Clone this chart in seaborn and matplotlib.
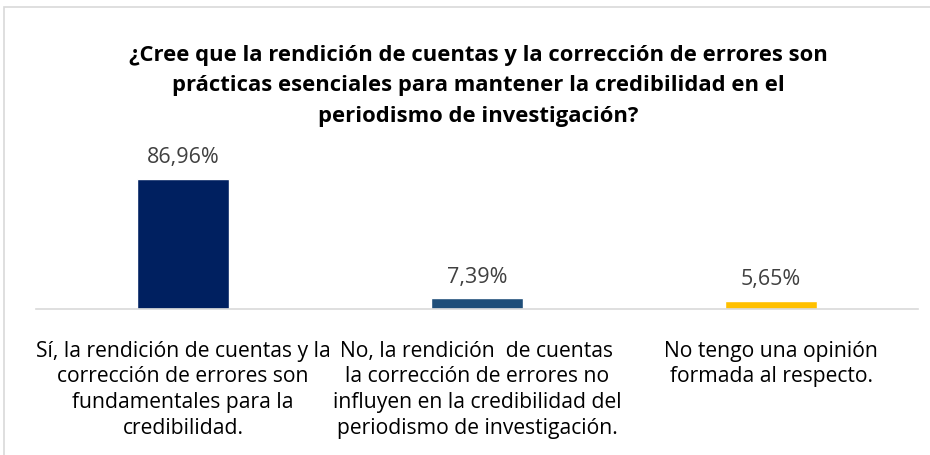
import matplotlib
matplotlib.use("Agg")
import matplotlib.pyplot as plt
import seaborn as sns
import pandas as pd
from matplotlib.patches import Rectangle

categories = [
    "Sí, la rendición de cuentas y la\ncorrección de errores son\nfundamentales para la\ncredibilidad.",
    "No, la rendición  de cuentas\nla corrección de errores no\ninfluyen en la credibilidad del\nperiodismo de investigación.",
    "No tengo una opinión\nformada al respecto.",
]
values = [86.96, 7.39, 5.65]
value_labels = ["86,96%", "7,39%", "5,65%"]
colors = ["#002060", "#1F4E79", "#FFC000"]
title = ("¿Cree que la rendición de cuentas y la corrección de errores son\n"
         "prácticas esenciales para mantener la credibilidad en el\n"
         "periodismo de investigación?")

sns.set_style("white")
fam = ["Liberation Sans Narrow", "Open Sans", "DejaVu Sans"]
plt.rcParams["font.family"] = fam

df = pd.DataFrame({"cat": categories, "val": values})

fig = plt.figure(figsize=(9.30, 4.56), dpi=100)
ax = fig.add_axes([36 / 930, 1 - 310 / 456, (918 - 36) / 930, 150 / 456])
sns.barplot(data=df, x="cat", y="val", hue="cat", palette=colors,
            legend=False, width=0.31, ax=ax, saturation=1)
ax.set_ylim(0, 100)
ax.set_xlim(-0.5, 2.5)
ax.set_xlabel("")
ax.set_ylabel("")
ax.set_yticks([])
for s in ["top", "right", "left"]:
    ax.spines[s].set_visible(False)
ax.spines["bottom"].set_color("#D9D9D9")
ax.spines["bottom"].set_linewidth(1.2)
ax.tick_params(axis="x", length=0, pad=22)
for lbl in ax.get_xticklabels():
    lbl.set_fontsize(15.2)
    lbl.set_color("#000000")
    lbl.set_linespacing(1.3)
    lbl.set_verticalalignment("top")

for i, (v, t) in enumerate(zip(values, value_labels)):
    ax.annotate(t, (i, v), xytext=(0, 8), textcoords="offset points",
                ha="center", va="bottom", fontsize=15.5, color="#404040")

fig.text(478 / 930, 1 - 86 / 456, title, ha="center", va="center",
         fontsize=15.8, fontweight="bold", color="#000000", linespacing=1.62)

fig.patches.append(Rectangle((4 / 930, -0.1), 1.2, 1 - 8 / 456 + 0.1,
                             transform=fig.transFigure, fill=False,
                             edgecolor="#D9D9D9", linewidth=1.2))

fig.savefig("out.png", dpi=100)
